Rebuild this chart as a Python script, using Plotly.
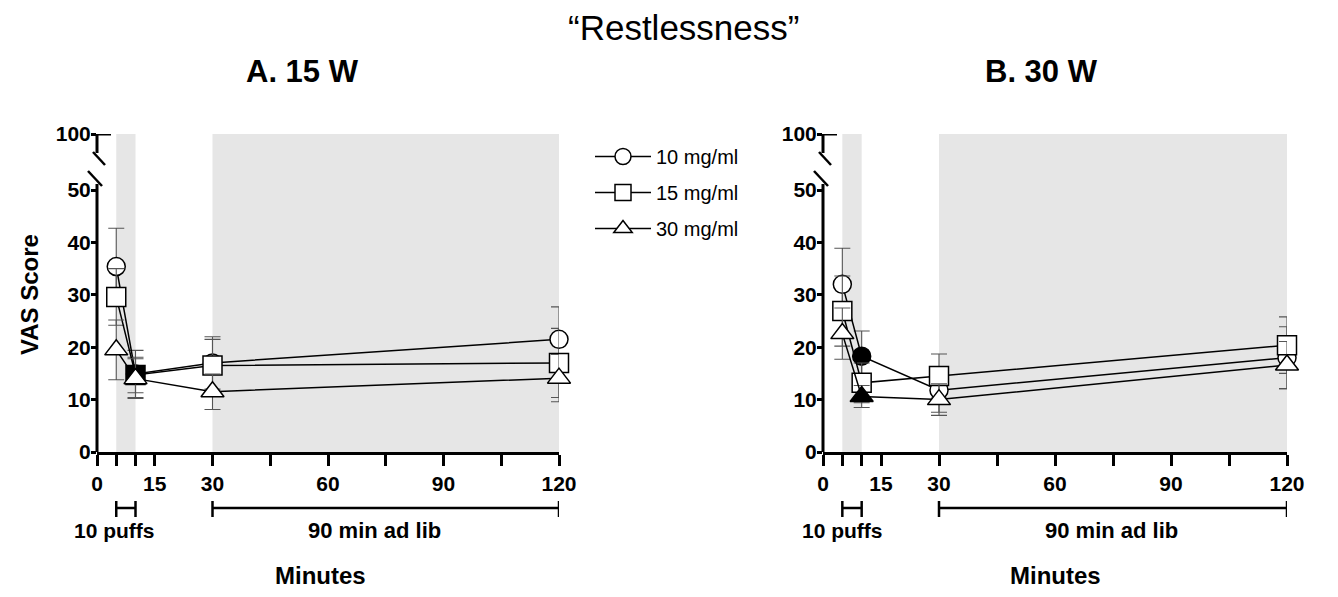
import plotly.graph_objects as go

# ---------------- data ----------------
minutes = [5, 10, 30, 120]
series_names = ["10 mg/ml", "15 mg/ml", "30 mg/ml"]
symbols = ["circle", "square", "triangle-up"]

# Panel A (15 W)
a_10 = [35.4, 14.9, 17.0, 21.5]
a_10_sem = [7.3, 4.5, 5.0, 6.2]
a_15 = [29.6, 14.7, 16.5, 17.0]
a_15_sem = [5.4, 3.4, 5.0, 6.6]
a_30 = [19.5, 14.0, 11.5, 14.1]
a_30_sem = [5.7, 3.8, 3.4, 4.5]
a_filled = [[False, True, False, False], [False, True, False, False], [False, False, False, False]]

# Panel B (30 W)
b_10 = [32.0, 18.3, 11.8, 18.0]
b_10_sem = [6.9, 4.8, 4.2, 5.9]
b_15 = [26.9, 13.2, 14.5, 20.4]
b_15_sem = [6.7, 3.8, 4.2, 5.4]
b_30 = [22.6, 10.6, 10.0, 16.6]
b_30_sem = [4.9, 2.1, 3.0, 4.5]
b_filled = [[False, True, False, False], [False, False, False, False], [False, True, False, False]]

x_tickvals = [0, 5, 10, 15, 30, 45, 60, 75, 90, 105, 120]
x_ticktext = ["0", "", "", "15", "30", "", "60", "", "90", "", "120"]
y_top = 60.7  # position of the broken-axis "100" tick
y_tickvals = [0, 10, 20, 30, 40, 50, y_top]
y_ticktext = ["0", "10", "20", "30", "40", "50", "100"]
shade_spans = [(5, 10), (30, 120)]
bracket_spans = [(5, 10), (30, 120)]
bracket_labels = ["10 puffs", "90 min ad lib"]

FONT = "Liberation Sans, Arial, Helvetica, sans-serif"
WIN_W, WIN_H = 1338, 597
OFF = 8  # default page body margin
W, H = WIN_W - 2 * OFF, WIN_H - 2 * OFF


def px_x(v):
    return (v - OFF) / W


def px_y(v):
    return 1 - (v - OFF) / H


panels = [
    dict(x="x", y="y", xd=(97, 559), vals=[a_10, a_15, a_30], sems=[a_10_sem, a_15_sem, a_30_sem],
         filled=a_filled, legend=True, title="A. 15 W", tx=302, mx=320, lab_x=[4.6, 72.0]),
    dict(x="x2", y="y2", xd=(823, 1287), vals=[b_10, b_15, b_30], sems=[b_10_sem, b_15_sem, b_30_sem],
         filled=b_filled, legend=False, title="B. 30 W", tx=1041, mx=1055, lab_x=[5.0, 74.7]),
]

fig = go.Figure()
for p in panels:
    for i in range(3):
        colors = ["black" if f else "white" for f in p["filled"][i]]
        fig.add_trace(go.Scatter(
            x=minutes, y=p["vals"][i], xaxis=p["x"], yaxis=p["y"],
            mode="lines+markers", name=series_names[i],
            legendgroup="g%d" % i, showlegend=p["legend"],
            line=dict(color="black", width=1.5),
            marker=dict(symbol=symbols[i], size=[18, 19, 20][i], color=colors,
                        line=dict(color="black", width=1.5)),
            error_y=dict(type="data", array=p["sems"][i], color="#555555",
                         thickness=1.1, width=8),
            cliponaxis=False,
        ))

Y_BOT, Y_TOP = 452, 134
ydom = [px_y(Y_BOT), px_y(Y_TOP)]
unit_px = (Y_BOT - Y_TOP) / y_top
shapes = []
annotations = []
layout_axes = {}
for k, p in enumerate(panels):
    xname = "xaxis" if k == 0 else "xaxis2"
    yname = "yaxis" if k == 0 else "yaxis2"
    layout_axes[xname] = dict(
        domain=[px_x(p["xd"][0]), px_x(p["xd"][1])], range=[0, 120], anchor=p["y"],
        showline=True, linewidth=3, linecolor="black", ticks="outside", ticklen=11,
        tickwidth=3, tickcolor="black", tickvals=x_tickvals, ticktext=x_ticktext,
        tickfont=dict(family=FONT, size=21, color="black", weight="bold"),
        showgrid=False, zeroline=False, fixedrange=True, automargin=False,
    )
    layout_axes[yname] = dict(
        domain=ydom, range=[0, y_top], anchor=p["x"],
        showline=False, ticks="outside", ticklen=5, tickwidth=3, tickcolor="black",
        tickvals=y_tickvals, ticktext=y_ticktext, ticklabelstandoff=-4,
        tickfont=dict(family=FONT, size=21, color="black", weight="bold"),
        showgrid=False, zeroline=False, fixedrange=True, automargin=False,
    )
    width_px = p["xd"][1] - p["xd"][0]
    xdom_ref = p["x"] + " domain"
    ypx = lambda px: (Y_BOT - px) / unit_px
    # shaded periods
    for s0, s1 in shade_spans:
        shapes.append(dict(type="rect", xref=p["x"], yref=p["y"], x0=s0, x1=s1, y0=0, y1=y_top,
                           fillcolor="#e6e6e6", line=dict(width=0), layer="below"))
    # broken y-axis line
    shapes.append(dict(type="line", xref=xdom_ref, yref=p["y"], x0=0, x1=0, y0=0, y1=ypx(184),
                       line=dict(color="black", width=3)))
    shapes.append(dict(type="line", xref=xdom_ref, yref=p["y"], x0=0, x1=0, y0=ypx(153), y1=y_top,
                       line=dict(color="black", width=3)))
    shapes.append(dict(type="line", xref=xdom_ref, yref=p["y"], x0=0, x1=14 / width_px, y0=y_top, y1=y_top,
                       line=dict(color="black", width=3)))
    for (dx0, py0, dx1, py1) in [(-4, 152, 8, 165), (-9, 171, 5, 186)]:
        shapes.append(dict(type="line", xref=xdom_ref, yref=p["y"], x0=dx0 / width_px, x1=dx1 / width_px,
                           y0=ypx(py0), y1=ypx(py1), line=dict(color="black", width=2.5)))
    # brackets below x axis
    yb = px_y(508)
    yc0, yc1 = px_y(501), px_y(517)
    for (b0, b1), label, lx in zip(bracket_spans, bracket_labels, p["lab_x"]):
        shapes.append(dict(type="line", xref=p["x"], yref="paper", x0=b0, x1=b1, y0=yb, y1=yb,
                           line=dict(color="black", width=2.5)))
        for bx in (b0, b1):
            shapes.append(dict(type="line", xref=p["x"], yref="paper", x0=bx, x1=bx, y0=yc0, y1=yc1,
                               line=dict(color="black", width=2.5)))
        annotations.append(dict(text=label, xref=p["x"], yref="paper", x=lx, y=px_y(530),
                                showarrow=False, xanchor="center", yanchor="middle",
                                font=dict(family=FONT, size=22 if lx > 20 else 21,
                                          color="black", weight="bold")))
    annotations.append(dict(text="Minutes", xref="paper", yref="paper", x=px_x(p["mx"]), y=px_y(575),
                            showarrow=False, xanchor="center", yanchor="middle",
                            font=dict(family=FONT, size=24, color="black", weight="bold")))
    annotations.append(dict(text=p["title"], xref="paper", yref="paper", x=px_x(p["tx"]), y=px_y(72),
                            showarrow=False, xanchor="center", yanchor="middle",
                            font=dict(family=FONT, size=31, color="black", weight="bold")))

annotations.append(dict(text="\u201cRestlessness\u201d", xref="paper", yref="paper", x=px_x(683), y=px_y(27),
                        showarrow=False, xanchor="center", yanchor="middle",
                        font=dict(family=FONT, size=35, color="black")))
annotations.append(dict(text="VAS Score", xref="paper", yref="paper", x=px_x(30), y=px_y(295),
                        showarrow=False, xanchor="center", yanchor="middle", textangle=-90,
                        font=dict(family=FONT, size=24, color="black", weight="bold")))

fig.update_layout(
    width=W, height=H, margin=dict(l=0, r=0, t=0, b=0, pad=0, autoexpand=False),
    paper_bgcolor="white", plot_bgcolor="white",
    font=dict(family=FONT, color="black"),
    showlegend=True,
    legend=dict(x=px_x(590), y=px_y(137), xanchor="left", yanchor="top",
                font=dict(family=FONT, size=20, color="black"),
                bgcolor="rgba(0,0,0,0)", tracegroupgap=7, itemsizing="trace", itemwidth=56),
    shapes=shapes, annotations=annotations,
    **layout_axes,
)

fig.write_html("out.html")
